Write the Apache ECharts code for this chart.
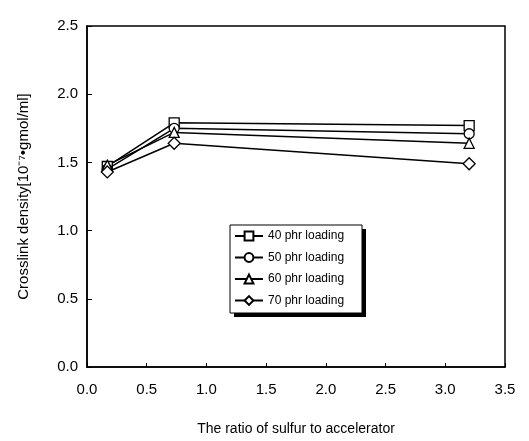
<!DOCTYPE html>
<html>
<head>
<meta charset="utf-8">
<script src="https://cdn.jsdelivr.net/npm/echarts@6/dist/echarts.min.js"></script>
<style>
  html, body { margin: 0; padding: 0; background: #fff; }
  #main { width: 529px; height: 441px; }
</style>
</head>
<body>
<div id="main"></div>
<script>
// ratio of sulfur to accelerator
var ratios = [0.17, 0.73, 3.2];
var seriesNames = ['40 phr loading', '50 phr loading', '60 phr loading', '70 phr loading'];
var load40 = [1.47, 1.79, 1.77];
var load50 = [1.45, 1.75, 1.71];
var load60 = [1.48, 1.72, 1.64];
var load70 = [1.43, 1.64, 1.49];
var symbols = ['rect', 'circle', 'triangle', 'diamond'];
var yTicks = [0, 0.5, 1.0, 1.5, 2.0, 2.5];

var allData = [load40, load50, load60, load70];

function pairs(vals) {
  var out = [];
  for (var i = 0; i < ratios.length; i++) {
    out.push([ratios[i], vals[i]]);
  }
  return out;
}

var font = 'Liberation Sans, Arial, sans-serif';

var series = [];
for (var k = 0; k < allData.length; k++) {
  series.push({
    name: seriesNames[k],
    type: 'line',
    data: pairs(allData[k]),
    symbol: symbols[k],
    symbolSize: k == 3 ? 12 : 10,
    lineStyle: { color: '#000', width: 1.5 },
    itemStyle: { color: '#fff', borderColor: '#000', borderWidth: 1.3 },
    z: 3
  });
}

var myChart = echarts.init(document.getElementById('main'));
var option = {
  backgroundColor: '#fff',
  animation: false,
  grid: {
    left: 87, right: 24, top: 26, bottom: 70,
    show: true, borderColor: '#000', borderWidth: 1.5, backgroundColor: 'transparent'
  },
  // legend frame with its drop shadow
  graphic: [
    { type: 'rect', z: 5, shape: { x: 234, y: 229, width: 132, height: 88 },
      style: { fill: '#000' } },
    { type: 'rect', z: 6, shape: { x: 230, y: 225, width: 132, height: 88 },
      style: { fill: '#fff', stroke: '#000', lineWidth: 1 } }
  ],
  legend: {
    orient: 'vertical',
    left: 234, top: 230,
    z: 10,
    data: seriesNames,
    itemWidth: 28, itemHeight: 11, itemGap: 9.5,
    padding: 0,
    textStyle: { fontFamily: font, fontSize: 12, color: '#000' }
  },
  xAxis: {
    type: 'value',
    min: 0, max: 3.5, interval: 0.5,
    name: 'The ratio of sulfur to accelerator',
    nameLocation: 'middle', nameGap: 55,
    nameTextStyle: { fontFamily: font, fontSize: 14, color: '#000' },
    axisLine: { lineStyle: { color: '#000', width: 1.5 } },
    axisTick: { inside: true, length: 4, lineStyle: { color: '#000' } },
    axisLabel: { fontFamily: font, fontSize: 15, color: '#000', margin: 15,
      formatter: function (v) { return v.toFixed(1); } },
    splitLine: { show: false }
  },
  yAxis: {
    type: 'value',
    min: yTicks[0], max: yTicks[yTicks.length - 1], interval: 0.5,
    name: 'Crosslink density[10\u207B\u2077\u2022gmol/ml]',
    nameLocation: 'middle', nameGap: 56,
    nameTextStyle: { fontFamily: font, fontSize: 15, color: '#000' },
    axisLine: { lineStyle: { color: '#000', width: 1.5 } },
    axisTick: { inside: true, length: 5, lineStyle: { color: '#000' } },
    axisLabel: { fontFamily: font, fontSize: 15, color: '#000', margin: 9,
      formatter: function (v) { return v.toFixed(1); } },
    splitLine: { show: false }
  },
  series: series
};
myChart.setOption(option);
</script>
</body>
</html>
